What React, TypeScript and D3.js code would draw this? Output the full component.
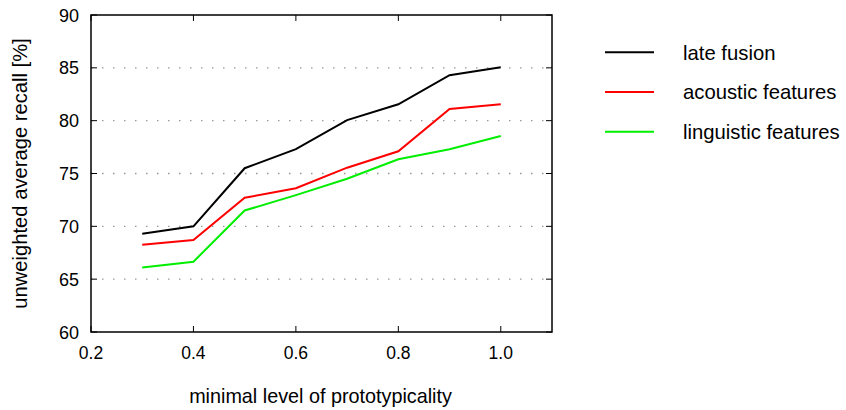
import React, { useEffect } from "react";
import * as d3 from "d3";

const levels = [0.3, 0.4, 0.5, 0.6, 0.7, 0.8, 0.9, 1.0];
const lateFusion = [69.3, 70.0, 75.5, 77.3, 80.05, 81.55, 84.3, 85.05];
const acoustic = [68.25, 68.7, 72.7, 73.6, 75.55, 77.1, 81.1, 81.55];
const linguistic = [66.1, 66.65, 71.5, 72.95, 74.5, 76.35, 77.3, 78.55];
const seriesNames = ["late fusion", "acoustic features", "linguistic features"];
const seriesColors = ["#000000", "#ff0000", "#00ee00"];
const xTicks = [0.2, 0.4, 0.6, 0.8, 1.0];
const yTicks = [60, 65, 70, 75, 80, 85, 90];

const W = 846;
const H = 410;
const left = 91;
const right = 552;
const top = 15;
const bottom = 332;
const font = "'Liberation Sans', Arial, Helvetica, sans-serif";

export default function App() {
  useEffect(() => {
    document.body.style.margin = "0";
  }, []);
  const x = d3.scaleLinear().domain([0.2, 1.1]).range([left, right]);
  const y = d3.scaleLinear().domain([60, 90]).range([bottom, top]);
  const allSeries = [lateFusion, acoustic, linguistic];
  const line = d3
    .line<number>()
    .x((_, i) => x(levels[i]))
    .y((d) => y(d));

  return (
    <svg width={W} height={H} style={{ display: "block", background: "#fff" }}>
      {/* grid */}
      {yTicks
        .filter((t) => t > 60 && t < 90)
        .map((t) => (
          <line
            key={"g" + t}
            x1={left}
            x2={right}
            y1={y(t)}
            y2={y(t)}
            stroke="#999"
            strokeWidth={1.3}
            strokeDasharray="1.5,9.5"
          />
        ))}
      {/* ticks */}
      {xTicks.map((t) => (
        <g key={"xt" + t}>
          <line x1={x(t)} x2={x(t)} y1={bottom} y2={bottom - 6} stroke="#000" strokeWidth={1} />
          <line x1={x(t)} x2={x(t)} y1={top} y2={top + 6} stroke="#000" strokeWidth={1} />
          <text
            x={x(t)}
            y={359}
            textAnchor="middle"
            fontFamily={font}
            fontSize={17.5}
            fill="#000"
          >
            {t.toFixed(1)}
          </text>
        </g>
      ))}
      {yTicks.map((t) => (
        <g key={"yt" + t}>
          <line x1={left} x2={left + 6} y1={y(t)} y2={y(t)} stroke="#000" strokeWidth={1} />
          <line x1={right} x2={right - 6} y1={y(t)} y2={y(t)} stroke="#000" strokeWidth={1} />
          <text
            x={79}
            y={y(t) + 6.5}
            textAnchor="end"
            fontFamily={font}
            fontSize={18}
            fill="#000"
          >
            {t}
          </text>
        </g>
      ))}
      {/* frame */}
      <rect
        x={left}
        y={top}
        width={right - left}
        height={bottom - top}
        fill="none"
        stroke="#000"
        strokeWidth={1.5}
      />
      {/* series */}
      {allSeries.map((s, i) => (
        <path
          key={"s" + i}
          d={line(s) || ""}
          fill="none"
          stroke={seriesColors[i]}
          strokeWidth={2}
          strokeLinejoin="miter"
        />
      ))}
      {/* legend */}
      {seriesNames.map((n, i) => (
        <g key={"l" + i}>
          <line
            x1={605}
            x2={654}
            y1={52.3 + i * 39.7}
            y2={52.3 + i * 39.7}
            stroke={seriesColors[i]}
            strokeWidth={2}
          />
          <text
            x={683}
            y={59.5 + i * 39.7}
            fontFamily={font}
            fontSize={20.3}
            fill="#000"
          >
            {n}
          </text>
        </g>
      ))}
      {/* axis titles */}
      <text
        x={(left + right) / 2 - 1}
        y={403}
        textAnchor="middle"
        fontFamily={font}
        fontSize={19.8}
        fill="#000"
      >
        minimal level of prototypicality
      </text>
      <text
        transform={`translate(27, ${(top + bottom) / 2}) rotate(-90)`}
        textAnchor="middle"
        fontFamily={font}
        fontSize={20.2}
        fill="#000"
      >
        unweighted average recall [%]
      </text>
    </svg>
  );
}
